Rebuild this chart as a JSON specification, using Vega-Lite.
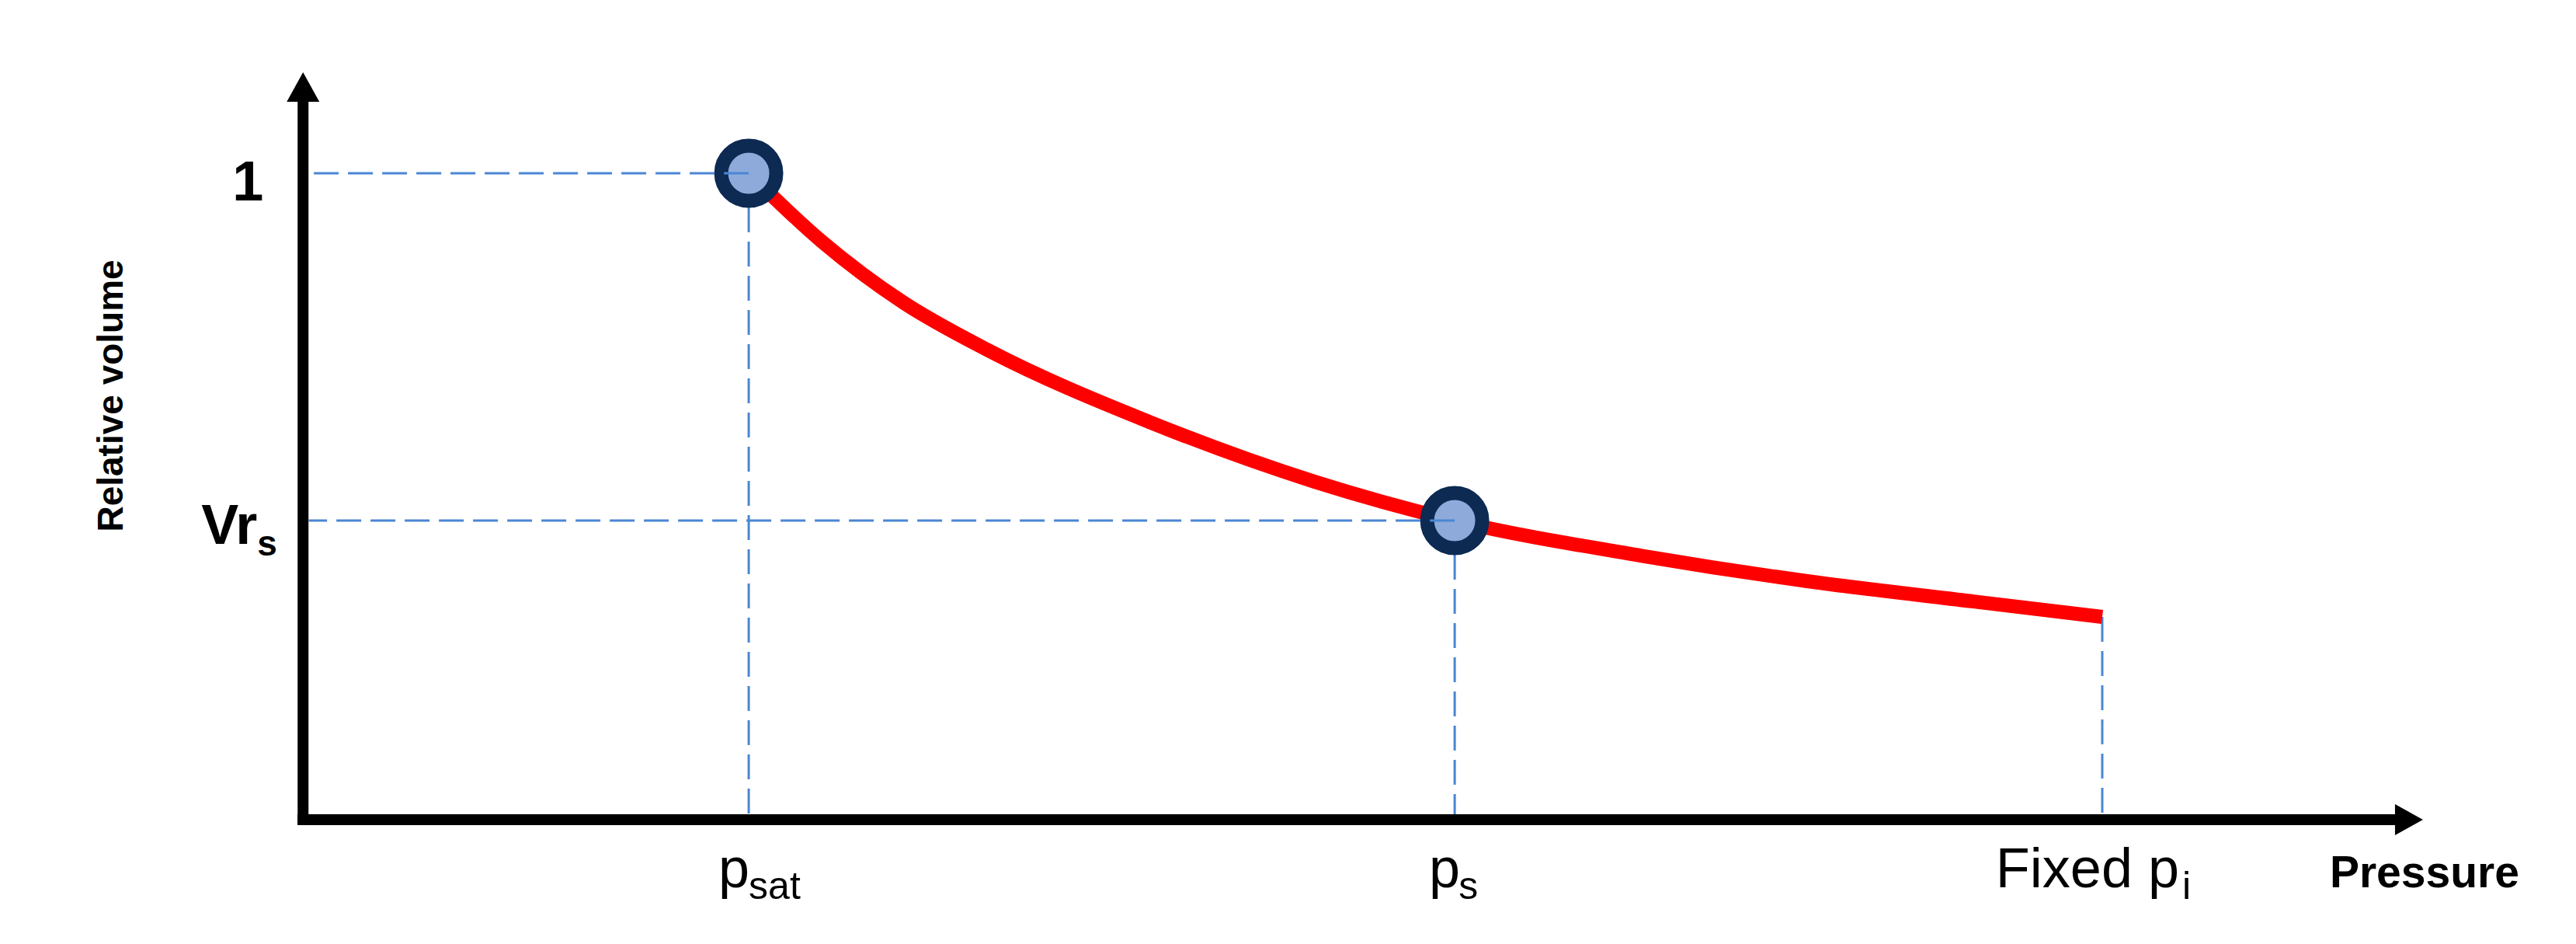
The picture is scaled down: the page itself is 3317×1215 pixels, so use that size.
{
  "$schema": "https://vega.github.io/schema/vega-lite/v6.json",
  "width": 3317,
  "height": 1215,
  "autosize": {"type": "fit", "contains": "padding"},
  "padding": 0,
  "background": "white",
  "config": {"view": {"stroke": null}},
  "datasets": {
    "curve": [
      {"pressure": 1.0, "volume": 1.0},
      {"pressure": 1.163, "volume": 0.895},
      {"pressure": 1.347, "volume": 0.8},
      {"pressure": 1.532, "volume": 0.728},
      {"pressure": 1.9, "volume": 0.615},
      {"pressure": 2.269, "volume": 0.523},
      {"pressure": 2.584, "volume": 0.4627},
      {"pressure": 3.006, "volume": 0.408},
      {"pressure": 3.375, "volume": 0.369},
      {"pressure": 3.743, "volume": 0.338},
      {"pressure": 4.037, "volume": 0.3137}
    ],
    "points": [
      {"pressure": 1.0, "volume": 1.0, "name": "psat"},
      {"pressure": 2.584, "volume": 0.4627, "name": "ps"}
    ],
    "guides": [
      {"pressure": 1.0, "volume": 1.0},
      {"pressure": 2.584, "volume": 0.4627},
      {"pressure": 4.037, "volume": 0.3137}
    ],
    "one": [{"k": 1}]
  },
  "layer": [
    {
      "data": {"name": "guides"},
      "mark": {"type": "rule", "color": "#4a86d4", "strokeWidth": 3, "strokeDash": [32, 12]},
      "encoding": {
        "x": {"field": "pressure", "type": "quantitative", "scale": {"domain": [-0.68, 5.1], "nice": false, "zero": false}, "axis": null},
        "y": {"field": "volume", "type": "quantitative", "scale": {"domain": [-0.1923, 1.268], "nice": false, "zero": false}, "axis": null},
        "y2": {"datum": 0}
      }
    },
    {
      "data": {"name": "one"},
      "mark": {"type": "rule", "color": "black", "strokeWidth": 14, "strokeCap": "butt"},
      "encoding": {
        "x": {"datum": 0, "type": "quantitative", "axis": null},
        "y": {"datum": -0.0084, "type": "quantitative", "axis": null},
        "y2": {"datum": 1.1106}
      }
    },
    {
      "data": {"name": "one"},
      "mark": {"type": "rule", "color": "black", "strokeWidth": 14, "strokeCap": "butt"},
      "encoding": {
        "y": {"datum": 0, "type": "quantitative", "axis": null},
        "x": {"datum": -0.0125, "type": "quantitative", "axis": null},
        "x2": {"datum": 4.697}
      }
    },
    {
      "data": {"name": "one"},
      "mark": {"type": "point", "shape": "M-1,0.9L0,-0.9L1,0.9Z", "size": 1764, "filled": true, "color": "black", "opacity": 1},
      "encoding": {
        "x": {"datum": 0, "type": "quantitative", "axis": null},
        "y": {"datum": 1.1334, "type": "quantitative", "axis": null}
      }
    },
    {
      "data": {"name": "one"},
      "mark": {"type": "point", "shape": "M-0.9,-1L0.9,0L-0.9,1Z", "size": 1600, "filled": true, "color": "black", "opacity": 1},
      "encoding": {
        "x": {"datum": 4.7252, "type": "quantitative", "axis": null},
        "y": {"datum": 0, "type": "quantitative", "axis": null}
      }
    },
    {
      "data": {"name": "curve"},
      "mark": {"type": "line", "color": "#ff0000", "strokeWidth": 18, "strokeCap": "butt", "interpolate": "monotone"},
      "encoding": {
        "x": {"field": "pressure", "type": "quantitative", "axis": null},
        "y": {"field": "volume", "type": "quantitative", "axis": null}
      }
    },
    {
      "data": {"name": "points"},
      "mark": {"type": "point", "shape": "circle", "size": 5027, "filled": true, "fill": "#8eaadb", "stroke": "#0c2a52", "strokeWidth": 18, "opacity": 1, "fillOpacity": 1, "strokeOpacity": 1},
      "encoding": {
        "x": {"field": "pressure", "type": "quantitative", "axis": null},
        "y": {"field": "volume", "type": "quantitative", "axis": null}
      }
    },
    {
      "data": {"name": "points"},
      "mark": {"type": "rule", "color": "#4a86d4", "strokeWidth": 3, "strokeDash": [32, 12]},
      "encoding": {
        "x": {"field": "pressure", "type": "quantitative", "axis": null},
        "x2": {"datum": 0.0125},
        "y": {"field": "volume", "type": "quantitative", "axis": null}
      }
    },
    {
      "data": {"name": "one"},
      "mark": {"type": "text", "text": "1", "font": "Liberation Sans", "fontWeight": "bold", "fontSize": 72, "align": "right", "baseline": "alphabetic", "dx": -51, "dy": 35, "color": "black"},
      "encoding": {"x": {"datum": 0, "type": "quantitative", "axis": null}, "y": {"datum": 1, "type": "quantitative", "axis": null}}
    },
    {
      "data": {"name": "one"},
      "mark": {"type": "text", "text": "Vr", "font": "Liberation Sans", "fontWeight": "bold", "fontSize": 72, "align": "right", "baseline": "alphabetic", "dx": -59, "dy": 30, "color": "black"},
      "encoding": {"x": {"datum": 0, "type": "quantitative", "axis": null}, "y": {"datum": 0.4627, "type": "quantitative", "axis": null}}
    },
    {
      "data": {"name": "one"},
      "mark": {"type": "text", "text": "s", "font": "Liberation Sans", "fontWeight": "bold", "fontSize": 46, "align": "left", "baseline": "alphabetic", "dx": -59, "dy": 45, "color": "black"},
      "encoding": {"x": {"datum": 0, "type": "quantitative", "axis": null}, "y": {"datum": 0.4627, "type": "quantitative", "axis": null}}
    },
    {
      "data": {"name": "one"},
      "mark": {"type": "text", "text": "Relative volume", "font": "Liberation Sans", "fontWeight": "bold", "fontSize": 46, "align": "center", "baseline": "alphabetic", "angle": 270, "color": "black"},
      "encoding": {"x": {"datum": -0.4046, "type": "quantitative", "axis": null}, "y": {"datum": 0.6557, "type": "quantitative", "axis": null}}
    },
    {
      "data": {"name": "one"},
      "mark": {"type": "text", "text": "Pressure", "font": "Liberation Sans", "fontWeight": "bold", "fontSize": 57, "align": "left", "baseline": "alphabetic", "dx": -102, "dy": 87, "color": "black"},
      "encoding": {"x": {"datum": 4.7252, "type": "quantitative", "axis": null}, "y": {"datum": 0, "type": "quantitative", "axis": null}}
    },
    {
      "data": {"name": "one"},
      "mark": {"type": "text", "text": "p", "font": "Liberation Sans", "fontSize": 72, "align": "right", "baseline": "alphabetic", "dx": 1, "dy": 87, "color": "black"},
      "encoding": {"x": {"datum": 1.0, "type": "quantitative", "axis": null}, "y": {"datum": 0, "type": "quantitative", "axis": null}}
    },
    {
      "data": {"name": "one"},
      "mark": {"type": "text", "text": "sat", "font": "Liberation Sans", "fontSize": 50, "align": "left", "baseline": "alphabetic", "dx": 0, "dy": 102, "color": "black"},
      "encoding": {"x": {"datum": 1.0, "type": "quantitative", "axis": null}, "y": {"datum": 0, "type": "quantitative", "axis": null}}
    },
    {
      "data": {"name": "one"},
      "mark": {"type": "text", "text": "p", "font": "Liberation Sans", "fontSize": 72, "align": "right", "baseline": "alphabetic", "dx": 7, "dy": 87, "color": "black"},
      "encoding": {"x": {"datum": 2.584, "type": "quantitative", "axis": null}, "y": {"datum": 0, "type": "quantitative", "axis": null}}
    },
    {
      "data": {"name": "one"},
      "mark": {"type": "text", "text": "s", "font": "Liberation Sans", "fontSize": 50, "align": "left", "baseline": "alphabetic", "dx": 5, "dy": 102, "color": "black"},
      "encoding": {"x": {"datum": 2.584, "type": "quantitative", "axis": null}, "y": {"datum": 0, "type": "quantitative", "axis": null}}
    },
    {
      "data": {"name": "one"},
      "mark": {"type": "text", "text": "Fixed p", "font": "Liberation Sans", "fontSize": 72, "align": "right", "baseline": "alphabetic", "dx": 99, "dy": 87, "color": "black"},
      "encoding": {"x": {"datum": 4.037, "type": "quantitative", "axis": null}, "y": {"datum": 0, "type": "quantitative", "axis": null}}
    },
    {
      "data": {"name": "one"},
      "mark": {"type": "text", "text": "i", "font": "Liberation Sans", "fontSize": 50, "align": "left", "baseline": "alphabetic", "dx": 103, "dy": 102, "color": "black"},
      "encoding": {"x": {"datum": 4.037, "type": "quantitative", "axis": null}, "y": {"datum": 0, "type": "quantitative", "axis": null}}
    }
  ]
}
